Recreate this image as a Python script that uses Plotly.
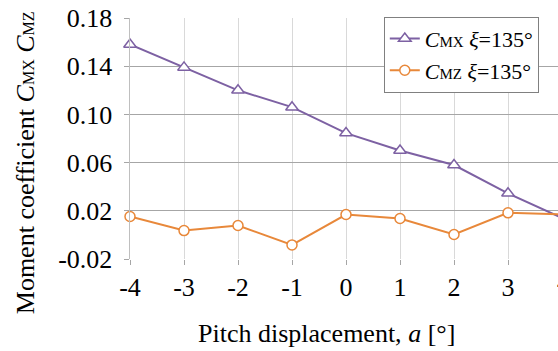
import plotly.graph_objects as go

pitch = [-4, -3, -2, -1, 0, 1, 2, 3, 4]
cmx = [0.158, 0.139, 0.120, 0.106, 0.0845, 0.070, 0.058, 0.0345, 0.014]
cmz = [0.0153, 0.0036, 0.0078, -0.0083, 0.0169, 0.0136, 0.0003, 0.0183, 0.017]
yticks = [-0.02, 0.02, 0.06, 0.10, 0.14, 0.18]
yticklabels = ["-0.02", "0.02", "0.06", "0.10", "0.14", "0.18"]
xticks = [-4, -3, -2, -1, 0, 1, 2, 3, 4]

purple = "#7D61A3"
orange = "#E8883A"
FONT = "Liberation Serif"
SUB = '<span style="font-size:16px">{}</span>'
LSUB = '<span style="font-size:15px">{}</span>'

fig = go.Figure()
fig.add_trace(go.Scatter(
    x=pitch, y=cmx, mode="lines+markers", cliponaxis=False,
    name="<i>C</i>" + LSUB.format("MX") + " <i>ξ</i>=135°",
    line=dict(color=purple, width=2),
    marker=dict(symbol="triangle-up", size=11, color="white",
                line=dict(color=purple, width=1.5)),
))
fig.add_trace(go.Scatter(
    x=pitch, y=cmz, mode="lines+markers", cliponaxis=False,
    name="<i>C</i>" + LSUB.format("MZ") + " <i>ξ</i>=135°",
    line=dict(color=orange, width=2),
    marker=dict(symbol="circle", size=10, color="white",
                line=dict(color=orange, width=1.5)),
))

fig.update_layout(
    width=558, height=351,
    margin=dict(l=130, r=0, t=18, b=92, autoexpand=False),
    paper_bgcolor="white", plot_bgcolor="white",
    font=dict(family=FONT, size=26, color="black"),
    showlegend=True,
    legend=dict(x=0.593, y=1.005, xanchor="left", yanchor="top",
                bgcolor="white", bordercolor="#808080", borderwidth=1,
                font=dict(family=FONT, size=22), tracegroupgap=0,
                itemwidth=30),
)
fig.update_xaxes(
    range=[-4, 3.926], tickvals=xticks, ticktext=[str(v) for v in xticks],
    showgrid=True, gridcolor="#D9D9D9", gridwidth=1,
    zeroline=False, showline=False,
    ticks="outside", ticklen=5, tickcolor="#A6A6A6",
    tickfont=dict(family=FONT, size=26), automargin=False,
)
fig.update_yaxes(
    range=[-0.02, 0.18], tickvals=yticks,
    ticktext=[t + "\u00a0" for t in yticklabels],
    showgrid=True, gridcolor="#A6A6A6", gridwidth=1,
    zeroline=False, showline=True, linecolor="#BFBFBF", linewidth=1,
    ticks="outside", ticklen=5, tickcolor="#A6A6A6",
    tickfont=dict(family=FONT, size=26), automargin=False,
)
fig.add_annotation(
    xref="paper", yref="paper", x=(563 - 130) / 428, y=-0.03,
    text="4", showarrow=False, yanchor="top", xanchor="center",
    font=dict(family=FONT, size=26),
)
fig.add_annotation(
    xref="paper", yref="paper", x=0.460, y=-0.311,
    text="Pitch displacement, <i>a</i> [°]", showarrow=False,
    xanchor="center", yanchor="middle", font=dict(family=FONT, size=26),
)
fig.add_annotation(
    xref="paper", yref="paper", x=-0.245, y=0.398,
    text="Moment coefficient <i>C</i>" + SUB.format("MX") + " <i>C</i>" + SUB.format("MZ"),
    showarrow=False, textangle=-90,
    xanchor="center", yanchor="middle", font=dict(family=FONT, size=26),
)
fig.write_html("out.html", post_script="document.body.style.margin='0px';",
               config={"displayModeBar": False})
